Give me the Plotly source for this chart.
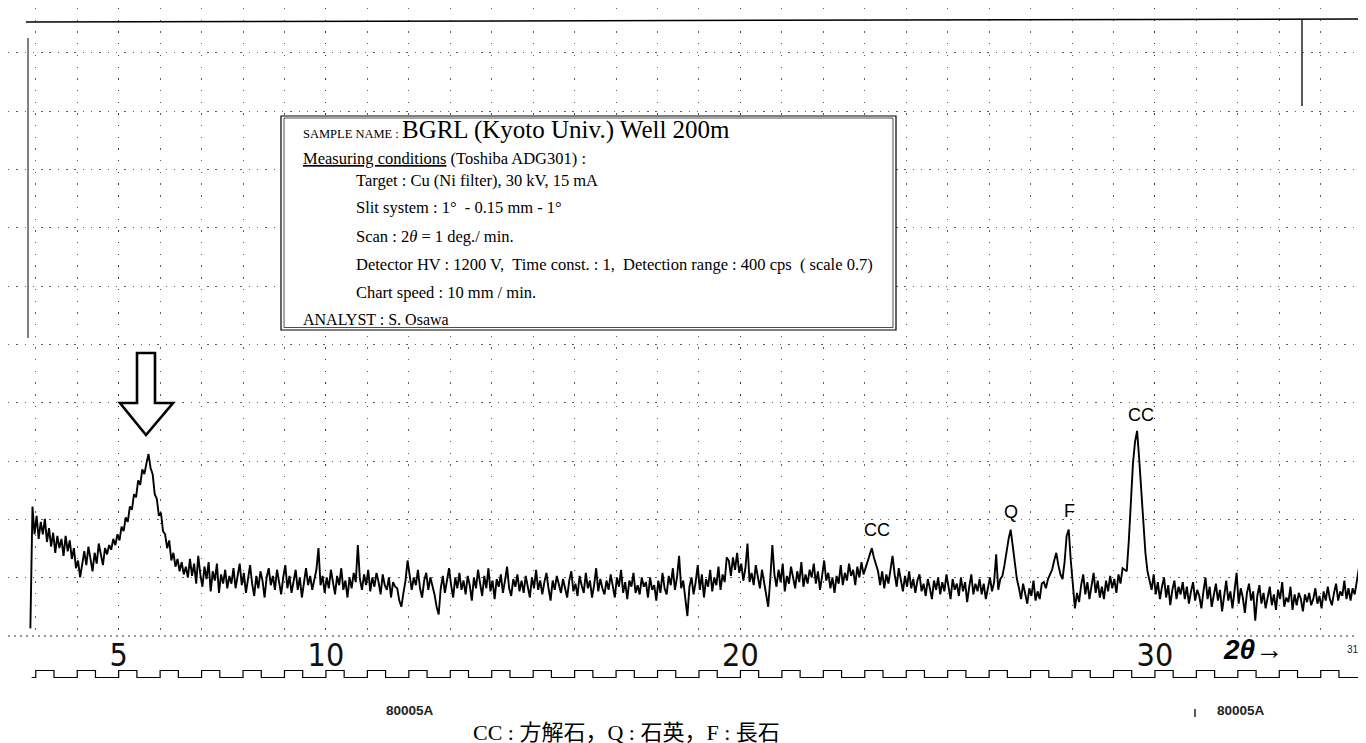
import numpy as np
import plotly.graph_objects as go

# ---------------- data ----------------
scan_start_deg = 2.87      # 2-theta of first sample
scan_step_deg = 0.05       # sampling step in 2-theta
intensity_cps = [
    3, 82, 64, 76, 61, 72, 64, 74, 59, 68, 56, 65, 52, 63, 55, 61, 50,
    63, 53, 60, 48, 55, 42, 47, 36, 45, 53, 44, 56, 48, 40, 52, 45, 58, 50, 44, 55,
    51, 57, 54, 61, 57, 64, 60, 69, 66, 75, 72, 82, 80, 90, 88, 99, 96, 106, 103, 110,
    116, 107, 103, 90, 87, 76, 78, 66, 64, 55, 60, 47, 52, 43, 48, 40, 46, 38, 43, 36,
    48, 37, 45, 32, 50, 38, 30, 43, 35, 46, 27, 40, 34, 45, 26, 38, 32, 41, 29, 37,
    32, 42, 29, 37, 45, 31, 39, 26, 36, 44, 32, 24, 37, 29, 40, 34, 23, 36, 42, 31,
    37, 28, 41, 33, 25, 36, 44, 29, 37, 26, 34, 41, 28, 36, 23, 33, 42, 31, 37, 28,
    34, 41, 55, 31, 37, 26, 36, 29, 41, 33, 25, 37, 31, 42, 28, 34, 23, 36, 29, 39,
    33, 57, 35, 28, 38, 31, 41, 27, 36, 30, 39, 33, 25, 38, 31, 28, 36, 23, 33, 30,
    29, 21, 17, 26, 34, 47, 37, 28, 36, 31, 41, 29, 23, 34, 39, 28, 36, 31, 25, 17,
    12, 29, 37, 26, 34, 42, 31, 23, 36, 29, 39, 28, 34, 25, 37, 31, 21, 36, 29, 41,
    32, 24, 37, 29, 42, 27, 34, 22, 35, 30, 38, 26, 34, 43, 29, 24, 35, 30, 38, 27,
    34, 26, 37, 31, 23, 36, 29, 41, 28, 34, 25, 33, 39, 29, 21, 34, 28, 37, 31, 26,
    35, 29, 23, 34, 40, 27, 32, 24, 37, 31, 26, 39, 29, 34, 23, 31, 42, 27, 35, 29,
    25, 34, 28, 38, 31, 23, 36, 30, 41, 26, 33, 22, 34, 30, 39, 26, 31, 25, 36, 30,
    33, 23, 36, 28, 31, 21, 34, 26, 39, 29, 25, 37, 31, 42, 28, 36, 50, 29, 34, 23,
    11, 30, 36, 25, 33, 44, 28, 38, 23, 35, 30, 41, 27, 36, 31, 43, 28, 38, 33, 49,
    47, 37, 49, 41, 52, 39, 45, 34, 42, 58, 33, 39, 31, 44, 36, 29, 41, 33, 25, 17,
    35, 57, 38, 30, 41, 33, 45, 27, 37, 32, 43, 35, 29, 40, 33, 46, 30, 38, 32, 41,
    36, 45, 32, 40, 28, 37, 47, 34, 39, 29, 36, 26, 37, 32, 44, 31, 39, 34, 45, 37,
    41, 31, 43, 36, 46, 38, 42, 47, 51, 55, 49, 44, 40, 31, 40, 29, 38, 32, 41, 50,
    38, 30, 42, 34, 27, 37, 30, 40, 29, 35, 26, 34, 38, 27, 32, 24, 35, 29, 22, 34,
    28, 36, 25, 33, 27, 38, 30, 22, 35, 28, 32, 24, 36, 27, 33, 20, 30, 38, 25, 32,
    27, 35, 25, 32, 22, 30, 36, 27, 33, 51, 28, 35, 37, 44, 53, 61, 67, 57, 45, 35,
    29, 22, 32, 26, 19, 29, 24, 34, 21, 27, 22, 32, 33, 29, 35, 38, 41, 47, 52, 44,
    38, 35, 46, 63, 67, 47, 31, 16, 26, 20, 31, 38, 25, 33, 22, 30, 39, 26, 34, 23,
    30, 22, 34, 27, 37, 29, 35, 26, 38, 32, 42, 41, 40, 60, 88, 110, 124, 131, 113, 92,
    72, 52, 40, 33, 28, 38, 25, 33, 22, 30, 36, 23, 31, 18, 28, 34, 22, 30, 25, 33,
    22, 30, 19, 27, 33, 21, 28, 24, 16, 27, 36, 22, 30, 17, 25, 32, 21, 28, 14, 24,
    34, 21, 27, 16, 26, 39, 19, 29, 23, 13, 26, 32, 21, 27, 8, 24, 31, 19, 26, 16,
    23, 30, 18, 25, 15, 28, 22, 33, 17, 23, 20, 30, 15, 25, 18, 26, 22, 14, 25, 20,
    26, 18, 22, 29, 19, 24, 16, 27, 21, 30, 22, 18, 26, 32, 21, 27, 24, 34, 22, 29,
    21, 29, 25, 34, 42, 28, 36, 31, 39, 29, 37, 33,
]
two_theta = np.round(scan_start_deg + scan_step_deg * np.arange(len(intensity_cps)), 3)

tick_degrees = [5, 10, 20, 30]
tick_labels = ["5", "10", "20", "30"]
marker_degrees = list(range(3, 36))          # chart-paper 1-degree time marks

peak_labels = ["CC", "Q", "F", "CC"]
peak_label_deg = [23.29, 26.53, 27.93, 29.66]
peak_label_cps = [66.8, 78.4, 79.1, 141.3]

NB = "\u00a0"
box_lines = [
    'SAMPLE NAME : <span style="font-size:25px">BGRL (Kyoto Univ.) Well 200m</span>',
    '<u>Measuring conditions</u> (Toshiba ADG301) :',
    'Target : Cu (Ni filter), 30 kV, 15 mA',
    'Slit system : 1°' + NB * 2 + '- 0.15 mm - 1°',
    'Scan : 2<i>θ</i> = 1 deg./ min.',
    'Detector HV : 1200 V,' + NB * 2 + 'Time const. : 1,' + NB * 2 + 'Detection range : 400 cps'
    + NB * 2 + '( scale 0.7)',
    'Chart speed : 10 mm / min.',
    'ANALYST : S. Osawa',
]
caption = "CC : 方解石，Q : 石英，F : 長石"

# ---------------- geometry / styling ----------------
W, H = 1366, 743
X_RANGE = [2.33, 35.285]
Y_RANGE = [-1.945, 405.19]
MAIN_BOTTOM_PX = 628


def pxx(x):
    return x / W


def pxy(y):
    return (H - y) / H


serif = "Liberation Serif, Times New Roman, serif"
sans = "Liberation Sans, Arial, sans-serif"
narrow = "Liberation Sans Narrow, DejaVu Sans Condensed, Liberation Sans, Arial, sans-serif"
dot_color = "rgba(40,40,40,0.75)"

fig = go.Figure()

fig.add_trace(go.Scatter(
    x=two_theta, y=intensity_cps, mode="lines",
    line=dict(color="black", width=1.9), hoverinfo="skip", showlegend=False,
))

# square-wave degree marker strip
wave_x = [marker_degrees[0] - 0.1]
wave_y = [0]
for d in marker_degrees:
    wave_x += [d, d + 0.44]
    wave_y += [1, 0]
fig.add_trace(go.Scatter(
    x=wave_x, y=wave_y, mode="lines", line_shape="hv",
    line=dict(color="black", width=1.2), xaxis="x2", yaxis="y2",
    hoverinfo="skip", showlegend=False,
))

fig.update_layout(
    width=W, height=H,
    margin=dict(l=0, r=0, t=0, b=0),
    paper_bgcolor="white", plot_bgcolor="white",
    xaxis=dict(
        range=X_RANGE, anchor="y", tickmode="array",
        tickvals=tick_degrees, ticktext=tick_labels,
        ticks="", showline=False, zeroline=False, ticklabelstandoff=-3,
        tickfont=dict(family=narrow, size=32, color="#111"),
        showgrid=True, gridcolor=dot_color, gridwidth=1.3, griddash="1.4px,10.3px",
        minor=dict(tick0=0, dtick=1, showgrid=True, gridcolor=dot_color,
                   gridwidth=1.3, griddash="1.4px,10.3px", ticks=""),
    ),
    yaxis=dict(
        domain=[(H - MAIN_BOTTOM_PX) / H, 1], range=Y_RANGE,
        showticklabels=False, ticks="", showline=False, zeroline=False,
        tick0=-1.945, dtick=37.8,
        showgrid=True, gridcolor=dot_color, gridwidth=1.3, griddash="1.4px,6.9px",
    ),
    xaxis2=dict(matches="x", anchor="y2", visible=False),
    yaxis2=dict(domain=[pxy(670), pxy(662)], range=[-0.05, 1.05], visible=False),
)

shapes = []
# chart frame lines
shapes.append(dict(type="line", xref="paper", yref="paper",
                   x0=pxx(18), y0=pxy(14), x1=pxx(1366), y1=pxy(11),
                   line=dict(color="black", width=1.5)))
shapes.append(dict(type="line", xref="paper", yref="paper",
                   x0=pxx(20), y0=pxy(30), x1=pxx(20), y1=pxy(330),
                   line=dict(color="black", width=1)))
shapes.append(dict(type="line", xref="paper", yref="paper",
                   x0=pxx(1294), y0=pxy(12), x1=pxx(1294), y1=pxy(98),
                   line=dict(color="black", width=1.3)))
# dashed base line
shapes.append(dict(type="line", xref="paper", yref="paper",
                   x0=0, y0=pxy(628), x1=1, y1=pxy(628),
                   line=dict(color="#333", width=1, dash="2px,4px")))
# small printed marks near the bottom right
shapes.append(dict(type="line", xref="paper", yref="paper",
                   x0=pxx(1187), y0=pxy(701), x1=pxx(1187), y1=pxy(709),
                   line=dict(color="#222", width=1.5)))
shapes.append(dict(type="line", xref="paper", yref="paper",
                   x0=pxx(1353), y0=pxy(634), x1=pxx(1353), y1=pxy(647),
                   line=dict(color="#222", width=1)))
# info box (double frame)
shapes.append(dict(type="rect", xref="paper", yref="paper",
                   x0=pxx(273), y0=pxy(322), x1=pxx(888), y1=pxy(108),
                   line=dict(color="black", width=1.2), fillcolor="white", layer="above"))
shapes.append(dict(type="rect", xref="paper", yref="paper",
                   x0=pxx(276), y0=pxy(319.5), x1=pxx(885), y1=pxy(110),
                   line=dict(color="#222", width=0.8), layer="above"))
# hollow arrow pointing at the low-angle peak
pts = [(129, 345), (147, 345), (147, 395), (165, 395), (138, 427), (112, 395), (129, 395)]
path = "M " + " L ".join(f"{pxx(a):.5f},{pxy(b):.5f}" for a, b in pts) + " Z"
shapes.append(dict(type="path", xref="paper", yref="paper", path=path,
                   fillcolor="white", line=dict(color="black", width=2.6)))
fig.update_layout(shapes=shapes)

ann = []
# info box text
line_x = [293, 293, 346, 346, 346, 346, 346, 293]
line_y = [122, 150, 172, 200, 228, 256, 284, 311]
line_size = [12.5, 16.5, 16.5, 16.5, 16.5, 16.5, 16.5, 16]
for t, x, y, s in zip(box_lines, line_x, line_y, line_size):
    ann.append(dict(text=t, xref="paper", yref="paper", x=pxx(x), y=pxy(y),
                    xanchor="left", yanchor="middle", showarrow=False,
                    font=dict(family=serif, size=s, color="black")))
# peak labels
for t, x, y in zip(peak_labels, peak_label_deg, peak_label_cps):
    ann.append(dict(text=t, x=x, y=y, xref="x", yref="y", showarrow=False,
                    xanchor="center", yanchor="middle",
                    font=dict(family=sans, size=18, color="black")))
# axis caption and misc chart-paper text
ann.append(dict(text="<b><i>2θ→</i></b>", xref="paper", yref="paper",
                x=pxx(1245), y=pxy(641), showarrow=False, xanchor="center", yanchor="middle",
                font=dict(family=sans, size=28, color="black")))
ann.append(dict(text="31", xref="paper", yref="paper",
                x=pxx(1345), y=pxy(641), showarrow=False, xanchor="center", yanchor="middle",
                font=dict(family=sans, size=10, color="#222")))
for xx in (402, 1233):
    ann.append(dict(text="<b>80005A</b>", xref="paper", yref="paper",
                    x=pxx(xx), y=pxy(702), showarrow=False, xanchor="center", yanchor="middle",
                    font=dict(family=sans, size=13.5, color="#222")))
ann.append(dict(text=caption, xref="paper", yref="paper",
                x=pxx(618), y=pxy(724), showarrow=False, xanchor="center", yanchor="middle",
                font=dict(family="Liberation Serif, Noto Sans CJK JP, serif", size=22, color="black")))
fig.update_layout(annotations=ann)

fig.write_html("out.html")
